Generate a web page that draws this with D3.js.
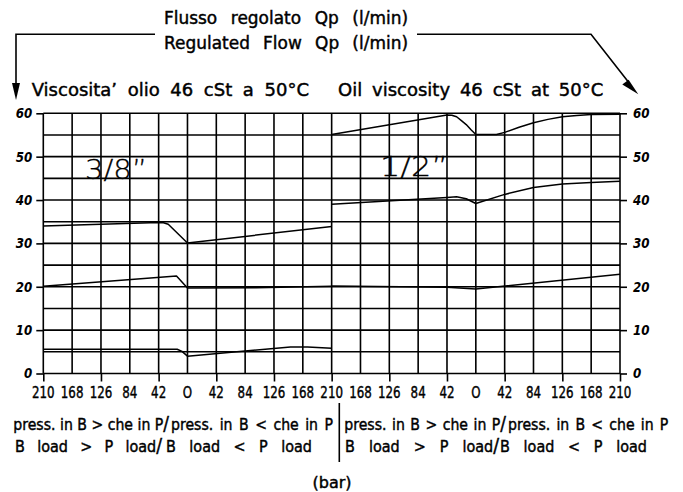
<!DOCTYPE html>
<html lang="it">
<head>
<meta charset="UTF-8">
<title>Flusso regolato Qp</title>
<script src="https://cdn.jsdelivr.net/npm/d3@7"></script>
<style>
  body { margin: 0; background: #fff; }
  svg { display: block; font-family: "DejaVu Sans", sans-serif; }
</style>
</head>
<body>
<script>
// bottom tick labels (bar), two panels, each one B>P | 0 | B<P
const xTickLabels = ["210","168","126","84","42","O","42","84","126","168","210",
                     "168","126","84","42","O","42","84","126","168","210"]
const yTicks = [0, 10, 20, 30, 40, 50, 60]

// [pressure, flow l/min], negative pressure = left half (B load > P load)
const flow38Top = [[-210,34.0],[-42,34.8],[-35,34.75],[-28,34.4],[0,30.1],[210,33.9]]
const flow38Mid = [[-210,20.1],[-16,22.5],[0,19.7],[100,19.8],[210,20.1]]
const flow38Low = [[-210,5.6],[-15,5.6],[-8,5.1],[0,4.0],[150,6.1],[175,6.1],[210,5.85]]

const flow12Top = [[-210,55.1],[-42,59.6],[-35,59.55],[-28,59.2],[-21,58.3],[-14,57.4],[-7,56.2],[0,55.1],
                   [30,55.1],[42,55.6],[63,56.8],[84,57.8],[105,58.6],[126,59.2],[147,59.5],[168,59.7],[210,59.8]]
const flow12Mid = [[-210,39.0],[-42,40.6],[-28,40.75],[-14,40.3],[0,39.2],[42,41.3],[84,42.9],[126,43.7],[168,44.05],[210,44.35]]
const flow12Low = [[-210,20.2],[-42,19.9],[0,19.5],[210,22.9]]

const width = 683
const height = 492
const svg = d3.select("body").append("svg").attr("width", width).attr("height", height)

const xGrid = d3.scaleLinear().domain([0, 20]).range([43.3, 620])
const y = d3.scaleLinear().domain([0, 60]).range([373.5, 113.3])
const xLeft = d3.scaleLinear().domain([-210, 210]).range([xGrid(0), xGrid(10)])
const xRight = d3.scaleLinear().domain([-210, 210]).range([xGrid(10), xGrid(20)])

function squeeze(sel, k) {
    sel.each(function () {
        const w = this.getComputedTextLength()
        d3.select(this).attr("textLength", w * k).attr("lengthAdjust", "spacingAndGlyphs")
    })
}
// glyphs scaled by k horizontally, spaces widened so the text runs from x0 to x1
function spanText(txt, x0, x1, yb, size, k = 0.88, slash = false) {
    const t = svg.append("text")
        .attr("transform", `translate(${x0},${yb}) scale(${k},1)`)
        .attr("font-size", size)
        .attr("stroke", "#000").attr("stroke-width", 0.45)
        .text(txt)
    if (slash) t.append("tspan").attr("font-size", size * 1.2).text("/")
    const w = t.node().getComputedTextLength()
    const spaces = txt.split(" ").length - 1
    const target = (x1 - x0) / k
    if (spaces > 0) t.attr("word-spacing", (target - w) / spaces)
    else t.attr("textLength", target).attr("lengthAdjust", "spacingAndGlyphs")
    return t
}

// grid
const grid = svg.append("g").attr("stroke", "#000").attr("stroke-width", 1.6)
grid.selectAll("line.h").data(d3.range(0, 61, 5)).enter().append("line")
    .attr("x1", xGrid(0)).attr("x2", xGrid(20))
    .attr("y1", d => y(d)).attr("y2", d => y(d))
grid.selectAll("line.v").data(d3.range(0, 21)).enter().append("line")
    .attr("x1", d => xGrid(d)).attr("x2", d => xGrid(d))
    .attr("y1", y(0)).attr("y2", y(60))

// axes
const yLeft = svg.append("g").attr("transform", `translate(${xGrid(0)},0)`)
    .call(d3.axisLeft(y).tickValues(yTicks).tickSize(7).tickPadding(4))
const yRight = svg.append("g").attr("transform", `translate(${xGrid(20)},0)`)
    .call(d3.axisRight(y).tickValues(yTicks).tickSize(7).tickPadding(6))
const xAxis = svg.append("g").attr("transform", `translate(0,${y(0)})`)
    .call(d3.axisBottom(xGrid).tickValues(d3.range(0, 21, 2)).tickSize(8).tickFormat(""))
;[yLeft, yRight, xAxis].forEach(a => {
    a.select(".domain").remove()
    a.selectAll("line").attr("stroke-width", 1.6)
    a.selectAll("text").attr("font-family", "DejaVu Sans").attr("font-size", 13.5)
        .attr("font-style", "italic").attr("font-weight", "bold").attr("dy", "0.33em")
})
squeeze(yLeft.selectAll("text"), 0.88)
squeeze(yRight.selectAll("text"), 0.88)

svg.append("g").selectAll("text").data(xTickLabels).enter().append("text")
    .attr("x", (d, i) => xGrid(i)).attr("y", 398.3)
    .attr("text-anchor", "middle").attr("font-size", 16)
    .attr("stroke", "#000").attr("stroke-width", 0.45)
    .text(d => d)
    .call(s => squeeze(s, 0.74))

// curves
const lineL = d3.line().x(d => xLeft(d[0])).y(d => y(d[1]))
const lineR = d3.line().x(d => xRight(d[0])).y(d => y(d[1]))
const curves = svg.append("g").attr("fill", "none").attr("stroke", "#000")
    .attr("stroke-width", 1.5).attr("stroke-linejoin", "round")
;[flow38Top, flow38Mid, flow38Low].forEach(s => curves.append("path").attr("d", lineL(s)))
;[flow12Top, flow12Mid, flow12Low].forEach(s => curves.append("path").attr("d", lineR(s)))

// size labels
spanText("3/8”", 85, 147, 179.3, 27, 1).attr("font-weight", 200).attr("stroke-width", 0.3)
spanText("1/2”", 380, 448, 176, 27, 1).attr("font-weight", 200).attr("stroke-width", 0.3)

// titles
spanText("Flusso regolato Qp (l/min)", 164, 408, 24, 17.5, 0.97)
spanText("Regulated Flow Qp (l/min)", 164, 408, 49.3, 17.5, 0.97)
spanText("Viscosita’ olio 46 cSt a 50°C", 31.7, 309, 96, 18, 1)
spanText("Oil viscosity 46 cSt at 50°C", 338, 603.3, 96, 18, 1)

// arrows from the title
const arrows = svg.append("g").attr("stroke", "#000").attr("stroke-width", 1.6).attr("fill", "none")
arrows.append("path").attr("d", "M155,34.3H16V86")
arrows.append("path").attr("d", "M417,34.3H591L628,81.5")
svg.append("path").attr("d", "M12,83L20,83L16,100Z").attr("fill", "#000")
svg.append("path").attr("d", "M622.3,84.6L628.6,79.7L638.3,94.3Z").attr("fill", "#000")

// bottom captions
spanText("press. in B > che in P", 13.3, 169, 429.5, 16, 0.88, true)
spanText("press. in B < che in P", 171, 333, 429.5, 16)
spanText("press. in B > che in P", 344.3, 506, 429.5, 16, 0.88, true)
spanText("press. in B < che in P", 508, 668.3, 429.5, 16)
spanText("B load > P load", 15, 162, 452, 16, 0.9, true)
spanText("B load < P load", 166, 312, 452, 16, 0.9)
spanText("B load > P load", 345, 499, 452, 16, 0.9, true)
spanText("B load < P load", 500, 647, 452, 16, 0.9)
svg.append("line").attr("x1", 339.3).attr("x2", 339.3).attr("y1", 403).attr("y2", 462)
    .attr("stroke", "#000").attr("stroke-width", 1.6)
svg.append("text").attr("x", 332).attr("y", 488).attr("text-anchor", "middle")
    .attr("font-size", 16).attr("stroke", "#000").attr("stroke-width", 0.45).text("(bar)")
</script>
</body>
</html>
